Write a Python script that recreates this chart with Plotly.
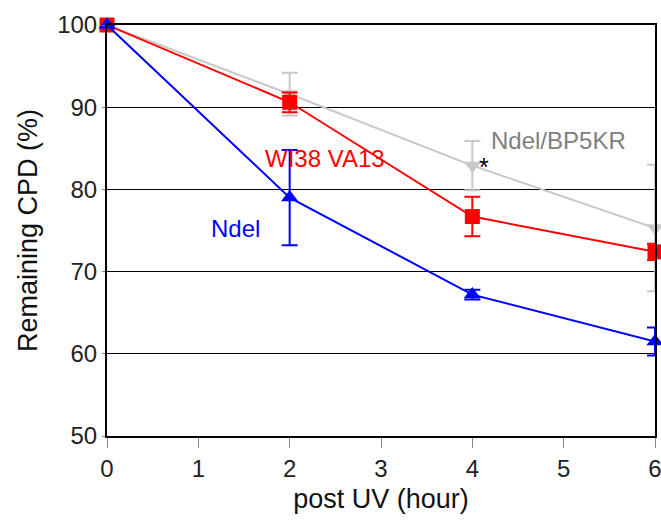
import plotly.graph_objects as go

hours = [0, 2, 4, 6]

wi38_vals = [100, 90.6, 76.7, 72.4]
wi38_err = [0, 1.2, 2.4, 1.0]

ndel_vals = [100, 79.0, 67.2, 61.5]
ndel_err = [0, 5.8, 0.6, 1.7]

bp5kr_vals = [100, 91.6, 82.9, 75.3]
bp5kr_err = [0, 2.6, 3.0, 7.7]

x_ticks = [0, 1, 2, 3, 4, 5, 6]
y_ticks = [50, 60, 70, 80, 90, 100]

FONT = "Liberation Sans"

fig = go.Figure()

fig.add_trace(go.Scatter(
    x=hours, y=bp5kr_vals, mode="lines+markers",
    line=dict(color="#c8c8c8", width=2),
    marker=dict(symbol="triangle-down", size=15, color="#c8c8c8"),
    error_y=dict(type="data", array=bp5kr_err, color="#c8c8c8", thickness=2, width=8),
    cliponaxis=False, showlegend=False))

fig.add_trace(go.Scatter(
    x=hours, y=wi38_vals, mode="lines+markers",
    line=dict(color="#ff0000", width=2),
    marker=dict(symbol="square", size=15, color="#ff0000"),
    error_y=dict(type="data", array=wi38_err, color="#ff0000", thickness=2, width=8),
    cliponaxis=False, showlegend=False))

fig.add_trace(go.Scatter(
    x=hours, y=ndel_vals, mode="lines+markers",
    line=dict(color="#0000ff", width=2),
    marker=dict(symbol="triangle-up", size=15, color="#0000ff"),
    error_y=dict(type="data", array=ndel_err, color="#0000ff", thickness=2, width=8),
    cliponaxis=False, showlegend=False))

fig.add_annotation(x=4.94, y=86.0, text="Ndel/BP5KR", showarrow=False,
                   font=dict(family=FONT, size=24, color="#808080"))
fig.add_annotation(x=4.13, y=82.7, text="*", showarrow=False,
                   font=dict(family=FONT, size=25, color="#000000"))
fig.add_annotation(x=2.39, y=83.8, text="WI38 VA13", showarrow=False,
                   font=dict(family=FONT, size=24, color="#ff0000"))
fig.add_annotation(x=1.41, y=75.3, text="Ndel", showarrow=False,
                   font=dict(family=FONT, size=24, color="#0000ff"))

fig.update_layout(
    width=661, height=522,
    margin=dict(l=107, r=6, t=25, b=86),
    paper_bgcolor="white", plot_bgcolor="white",
    font=dict(family=FONT, size=24, color="#222222"),
)

fig.update_xaxes(
    range=[0, 6], tickvals=x_ticks, ticktext=[str(v) for v in x_ticks],
    showline=True, linecolor="black", linewidth=2, mirror=True,
    showgrid=False, zeroline=False, automargin=False, ticklabeloverflow="allow",
    ticks="outside", ticklen=10, tickcolor="#888888", tickwidth=1,
    title=dict(text="post UV (hour)", font=dict(family=FONT, size=27, color="#111111"), standoff=8),
    tickfont=dict(family=FONT, size=24, color="#222222"),
)
fig.update_yaxes(
    range=[50, 100], tickvals=y_ticks, ticktext=[str(v) for v in y_ticks],
    showline=True, linecolor="black", linewidth=2, mirror=True,
    showgrid=True, gridcolor="black", gridwidth=1, zeroline=False, automargin=False,
    ticklabeloverflow="allow",
    ticks="outside", ticklen=3, tickcolor="#888888", tickwidth=1,
    title=dict(text="Remaining CPD (%)", font=dict(family=FONT, size=27, color="#111111"), standoff=12),
    tickfont=dict(family=FONT, size=24, color="#222222"),
)

fig.write_html("out.html")
